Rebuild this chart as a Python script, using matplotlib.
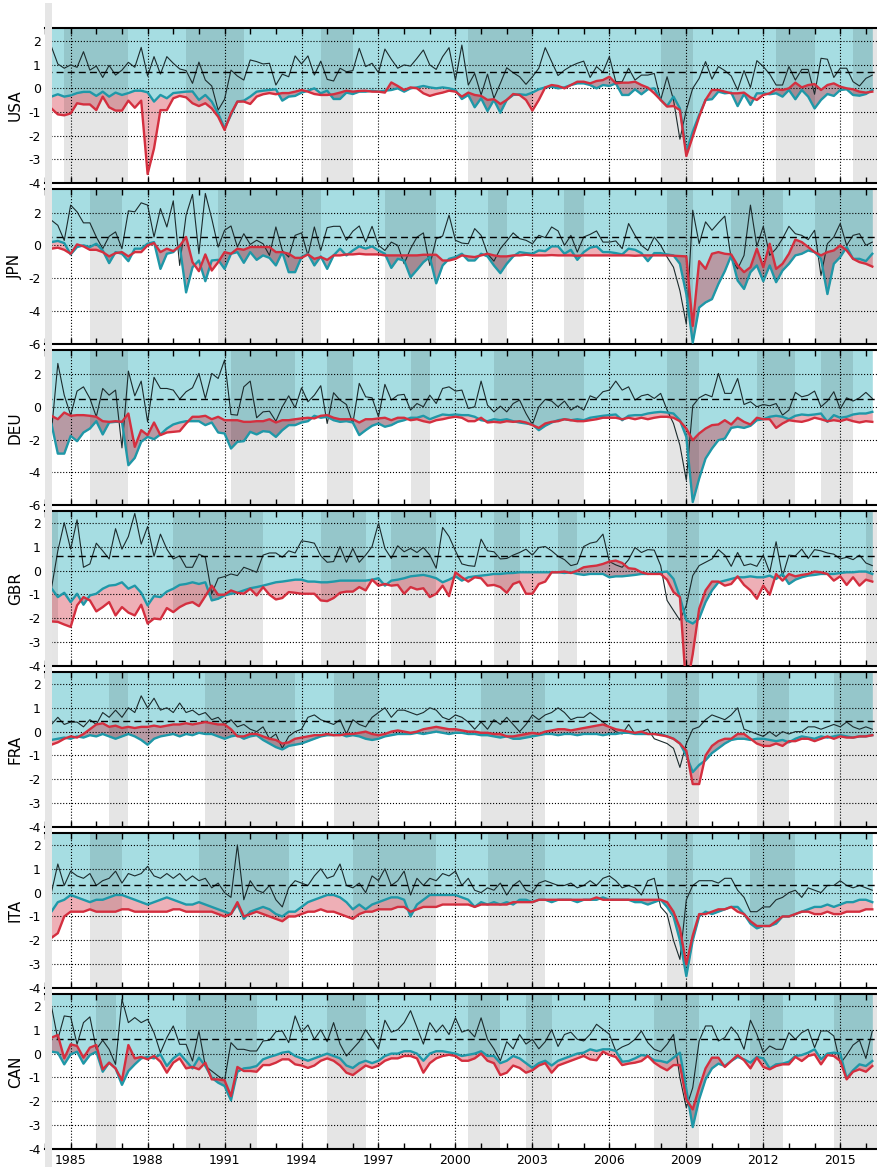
import numpy as np
import matplotlib
matplotlib.use("Agg")
import matplotlib.pyplot as plt
from matplotlib.patches import Rectangle
from matplotlib.ticker import MultipleLocator, FixedLocator

plt.rcParams['axes.unicode_minus'] = False

# quarterly observations 1984Q1 .. 2016Q2
quarters = 1984 + 0.25 * np.arange(130)

countries = ["USA", "JPN", "DEU", "GBR", "FRA", "ITA", "CAN"]

# ---- GDP growth (black line) ----
growth_usa = [2.0, 1.76, 1.03, 0.85, 0.99, 0.89, 1.55, 0.77, 0.94, 0.46, 0.97, 0.56, 0.77, 1.1, 0.89, 1.73, 0.52, 1.34, 0.6, 1.34,
              1.06, 0.82, 0.75, 0.21, 1.11, 0.35, 0.1, -0.92, -0.46, 0.77, 0.52, 0.35, 1.2, 1.13, 1.03, 1.06, 0.14, 0.6, 0.49, 1.37,
              1.03, 1.37, 0.56, 1.15, 0.38, 0.31, 0.85, 0.7, 0.75, 1.69, 0.92, 1.06, 0.66, 1.66, 1.23, 0.85, 0.99, 0.94, 1.27, 1.62,
              0.99, 0.8, 1.34, 1.72, 0.35, 1.83, 0.14, 0.63, -0.28, 0.6, -0.42, 0.21, 0.87, 0.66, 0.49, 0.17, 0.49, 0.85, 1.72, 1.13,
              0.54, 0.77, 0.94, 1.06, 1.15, 0.46, 0.92, 0.68, 1.34, 0.28, 0.28, 0.85, 0.35, 0.56, 0.56, 0.63, -0.49, 0.49, -0.49, -2.15,
              -0.92, 0.0, 0.42, 1.13, 0.39, 0.92, 0.75, 0.52, -0.07, 0.75, 0.04, 1.17, 0.92, 0.6, 0.14, 0.14, 0.92, 0.35, 0.8, 0.8,
              -0.25, 1.27, 1.23, 0.46, 0.85, 0.85, 0.28, 0.1, 0.42, 0.56]
growth_jpn = [1.16, 1.53, 1.22, 0.3, 2.45, 2.04, 1.37, 1.37, 0.51, -0.2, 0.55, 0.82, -0.2, 2.1, 2.04, 2.59, 2.45, 0.51, 2.24, 1.12,
              2.71, -1.22, 1.84, 3.1, -0.51, 3.16, 1.63, -0.1, 0.92, 1.18, -0.1, 0.71, 0.06, 0.31, 0.1, -0.61, 1.12, -0.31, -0.71, 0.61,
              0.76, -0.61, 1.12, -0.31, 1.08, 1.16, 1.16, 0.31, 0.86, 1.18, 0.2, 1.16, 0.0, -0.31, 0.2, 0.0, -1.12, -0.2, 0.5, 0.76,
              -1.22, 0.41, 0.57, 1.84, 0.31, 0.14, 0.1, 1.02, 0.61, -0.51, -0.96, -0.2, 0.27, 0.76, 0.41, 0.31, 0.1, 0.61, 0.47, 1.12,
              0.88, 0.0, 0.61, -0.41, 0.51, 0.67, 0.88, 0.2, 0.2, 0.27, -0.2, 1.33, 0.61, 0.0, -0.31, 0.51, 0.0, -0.71, -1.33, -2.76,
              -4.8, 2.14, 0.1, 1.43, 0.92, 1.37, 1.78, -0.82, -1.43, -0.61, 2.45, -0.06, 1.16, -0.61, -0.2, 0.41, 1.16, 0.71, 0.61, 0.35,
              0.92, -1.84, 0.1, 0.51, 1.33, 0.0, 0.61, 0.71, 0.0, 0.2]
growth_deu = [1.33, -1.57, 2.65, 0.71, -0.51, 0.96, 1.22, 0.51, -0.61, 1.12, 0.71, 1.02, -2.51, 2.18, 0.67, 1.57, -0.92, 1.8, 1.12, 1.12,
              1.02, 0.47, 0.92, 1.16, 2.04, 0.51, 2.04, 1.73, 2.86, -0.47, -0.51, 1.22, 1.57, -0.67, -0.31, -0.27, -0.88, 0.0, 0.67, -0.06,
              1.16, 0.31, 0.71, 1.29, -1.02, 0.86, 0.41, 0.14, -1.02, 1.43, 0.61, 0.55, -0.61, 1.37, 0.41, 0.71, 0.76, -0.2, 0.2, 0.0,
              0.71, 0.2, 1.12, 1.22, 0.96, 1.02, -0.1, 0.0, 1.57, 0.1, -0.31, 0.04, -0.31, 0.2, 0.41, -0.41, -1.08, 0.0, 0.45, 0.35,
              0.0, 0.35, -0.2, 0.06, -0.2, 0.67, 0.51, 0.92, 1.02, 1.57, 1.02, 1.22, 0.41, 0.67, 0.76, 0.51, 0.82, -0.2, -1.02, -2.35,
              -4.49, 0.06, 0.55, 0.76, 0.61, 2.04, 0.82, 0.82, 1.73, 0.14, 0.31, 0.0, 0.14, 0.06, 0.2, -0.51, -0.2, 0.88, 0.61, 0.71,
              0.96, 0.0, 0.35, 0.92, -0.14, 0.55, 0.35, 0.55, 0.88, 0.51]
growth_gbr = [0.62, -0.76, 0.83, 2.01, 0.9, 2.13, 0.14, 0.28, 1.15, 0.83, 0.49, 1.76, 0.9, 1.43, 2.4, 1.11, 1.85, 0.6, 1.53, 0.9,
              0.49, 0.62, 0.14, 0.14, 0.69, 0.56, -0.97, -0.32, -0.25, -0.14, -0.21, 0.14, 0.04, -0.07, 0.65, 0.74, 0.74, 0.56, 0.83, 0.74,
              1.25, 1.21, 1.15, 0.62, 0.35, 0.38, 1.01, 0.35, 0.93, 0.35, 0.65, 1.01, 1.99, 0.93, 0.51, 1.04, 0.79, 0.93, 0.76, 0.97,
              0.65, 0.1, 1.81, 1.43, 0.83, 0.28, 0.21, 0.18, 1.32, 0.83, 0.79, 0.49, 0.51, 0.65, 0.76, 0.9, 0.65, 0.97, 1.01, 0.83,
              0.6, 0.46, 0.21, 0.28, 1.01, 1.15, 1.21, 1.53, 0.38, 0.24, 0.14, 0.46, 0.97, 0.76, 0.88, 0.86, 0.21, -1.25, -1.67, -2.08,
              -1.46, -0.21, 0.21, 0.35, 0.49, 0.88, 0.65, 0.18, 0.76, 0.21, 0.28, 0.18, 0.65, -0.07, 1.21, -0.24, 0.65, 0.62, 0.9, 0.51,
              0.88, 0.83, 0.74, 0.69, 0.49, 0.56, 0.46, 0.65, 0.32, 0.21]
growth_fra = [0.5, 0.3, 0.6, 0.3, 0.4, 0.4, 0.2, 0.5, 0.3, 0.8, 0.6, 0.9, 0.6, 1.0, 0.8, 1.5, 1.0, 1.4, 0.9, 1.0,
              0.8, 1.2, 0.8, 0.9, 0.7, 0.8, 0.5, 0.6, 0.3, 0.5, 0.2, 0.3, 0.1, 0.0, 0.2, -0.3, -0.1, -0.7, -0.2, 0.0,
              0.1, 0.6, 0.7, 0.5, 0.4, 0.3, 0.5, -0.1, 0.5, 0.3, 0.2, 0.6, 0.8, 1.0, 0.6, 0.9, 0.9, 0.8, 0.7, 0.8,
              1.0, 0.9, 0.6, 0.5, 0.7, 0.6, 0.4, 0.1, 0.4, 0.1, 0.5, 0.3, 0.6, 0.3, 0.0, 0.3, 0.7, 0.5, 0.7, 0.8,
              1.0, 0.8, 0.5, 0.6, 0.6, 0.8, 0.6, 0.4, 0.2, 0.0, -0.1, 0.3, -0.1, 0.0, 0.1, -0.3, -0.4, -0.5, -0.7, -1.5,
              -0.5, 0.1, 0.2, 0.5, 0.7, 0.6, 0.5, 0.7, 1.0, 0.1, 0.0, -0.1, -0.2, 0.0, -0.2, 0.0, -0.1, 0.0, 0.0, 0.2,
              0.2, 0.1, 0.2, 0.3, 0.2, 0.4, 0.2, 0.1, 0.2, 0.1]
growth_ita = [0.9, 0.0, 1.2, 0.3, 0.9, 0.7, 0.6, 0.8, 0.3, 0.5, 0.6, 0.9, 0.4, 0.8, 0.7, 0.8, 1.1, 0.7, 0.6, 0.8,
              0.6, 0.8, 0.5, 0.7, 0.5, 0.6, 0.2, 0.4, 0.0, -0.2, 2.0, -0.3, 0.5, 0.1, 0.0, 0.3, -0.3, -0.6, 0.2, 0.5,
              0.4, 0.3, 0.7, 1.0, 0.6, 0.7, 1.2, 0.3, 0.2, 0.4, 0.0, 0.7, 0.5, 1.0, 0.3, 0.5, 0.9, -0.1, 0.6, 0.3,
              0.6, 0.5, 0.8, 0.7, 0.9, 0.3, 0.6, 0.1, 0.0, 0.2, 0.1, 0.4, -0.1, 0.3, 0.5, 0.1, 0.0, 0.4, 0.5, 0.4,
              0.3, 0.3, 0.4, 0.2, 0.3, 0.5, 0.3, 0.6, 0.7, 0.5, 0.2, 0.3, 0.2, -0.1, 0.5, 0.6, -0.6, -0.9, -2.0, -2.8,
              -0.3, 0.3, 0.5, 0.5, 0.5, 0.4, 0.6, 0.6, 0.1, -0.2, -0.8, -0.8, -0.6, -0.6, -0.3, -0.2, 0.0, 0.1, -0.2, 0.2,
              0.1, 0.0, 0.3, 0.3, 0.5, 0.3, 0.2, 0.3, 0.2, 0.1]
growth_can = [1.72, 2.0, 0.6, 1.58, 1.54, 0.39, 1.3, 1.54, 0.18, 0.56, 0.18, -0.45, 2.28, 1.3, 1.51, 1.3, 1.44, 0.88, 0.04, 0.67,
              1.16, 0.39, 0.39, -0.31, 0.95, -0.52, -0.73, -0.94, -1.12, 0.46, 0.18, 0.18, 0.11, 0.11, 0.53, 0.56, 0.92, 0.95, 0.46, 1.58,
              0.9, 1.2, 0.6, 1.0, 0.5, 1.3, 0.4, -0.1, 0.2, 0.5, 1.0, 0.6, 0.2, 1.4, 0.9, 1.0, 1.3, 1.8, 1.1, 0.4,
              1.3, 0.9, 1.2, 0.8, 1.5, 0.9, 1.0, 0.7, 1.5, 0.6, 0.2, -0.3, 0.5, 0.2, 0.8, 0.4, 0.6, 0.2, 0.5, 1.0,
              0.3, 0.8, 0.9, 0.6, 0.53, 0.81, 1.23, 1.02, 0.81, 0.11, 0.28, 0.39, 0.6, 0.95, 0.46, 0.18, 0.08, 0.39, 0.81, -1.01,
              -2.27, -1.43, 0.53, 1.16, 1.16, 0.53, 0.67, 1.12, 0.81, 0.18, 1.4, 0.81, 0.04, 0.32, 0.18, 0.18, 0.88, 0.6, 0.88, 1.02,
              0.25, 0.95, 0.95, 0.74, -0.42, -0.06, 0.36, 0.56, -0.2, 0.95]

# ---- first gap estimate (teal line) ----
teal_usa = [-0.42, -0.35, -0.25, -0.35, -0.3, -0.2, -0.15, -0.15, -0.32, -0.14, -0.35, -0.18, -0.28, -0.2, -0.1, -0.1, -0.17, -0.56, -0.28, -0.42,
            -0.2, -0.17, -0.14, -0.13, -0.49, -0.28, -0.56, -1.06, -1.69, -1.13, -0.56, -0.52, -0.35, -0.14, -0.1, -0.07, -0.04, -0.52, -0.35, -0.32,
            -0.18, -0.1, 0.0, -0.21, -0.1, -0.45, -0.45, -0.18, -0.24, -0.14, -0.14, -0.1, -0.14, -0.1, -0.07, 0.0, -0.14, 0.0, 0.04, 0.1,
            0.04, 0.0, 0.04, 0.0, -0.07, -0.45, -0.28, -0.8, -0.42, -0.96, -0.49, -1.03, -0.49, -0.28, -0.25, -0.28, -0.18, -0.04, 0.04, 0.07,
            0.0, 0.04, 0.14, 0.21, 0.21, 0.14, 0.0, 0.14, 0.1, 0.21, -0.28, -0.28, -0.04, -0.25, -0.04, 0.0, -0.49, -0.75, -0.35, -0.85,
            -2.68, -1.83, -1.13, -0.49, -0.46, -0.14, -0.21, -0.18, -0.75, -0.24, -0.7, -0.21, -0.21, -0.25, -0.21, -0.35, -0.07, -0.46, -0.07, -0.35,
            -0.85, -0.49, -0.24, -0.32, -0.07, -0.04, -0.28, -0.31, -0.24, -0.07]
teal_jpn = [0.0, 0.2, 0.27, 0.14, -0.55, -0.1, 0.0, -0.1, 0.1, -0.31, -1.08, -0.41, -0.51, -0.96, -0.2, -0.2, 0.1, 0.2, -1.43, -0.51,
            -0.41, 0.0, -2.86, -1.33, -0.92, -2.18, -0.92, -0.88, -1.43, -0.51, -0.41, -1.06, -0.41, -0.88, -0.61, -0.76, -1.22, -0.41, -1.63, -1.63,
            -0.71, -0.51, -1.22, -0.67, -1.43, -0.61, -0.2, -0.61, -0.31, -0.06, -0.2, -0.06, -0.31, -0.51, -1.37, -0.82, -0.92, -1.94, -1.49, -1.02,
            -0.71, -2.31, -1.22, -0.82, -0.71, -0.51, -0.92, -0.92, -0.51, -0.67, -1.22, -1.69, -1.12, -0.67, -0.41, -0.47, -0.51, -0.31, -0.35, -0.06,
            -0.06, -0.51, -0.27, -0.88, -0.41, -0.14, -0.06, -0.41, -0.41, -0.47, -0.55, -0.2, -0.27, -0.47, -0.96, -0.47, -0.47, -0.55, -0.61, -1.12,
            -2.96, -5.92, -3.78, -3.47, -3.27, -2.35, -1.57, -0.61, -2.14, -2.65, -1.63, -1.22, -2.18, -1.22, -2.24, -1.53, -1.12, -0.61, -0.51, -0.31,
            -0.41, -0.82, -2.96, -1.12, -0.71, -0.1, -0.82, -0.82, -0.96, -0.51]
teal_deu = [-0.71, -1.02, -2.86, -2.86, -1.78, -2.1, -1.57, -1.33, -0.88, -1.69, -0.96, -0.92, -0.92, -3.57, -3.12, -2.14, -1.84, -1.98, -1.69, -1.33,
            -1.08, -0.96, -0.88, -0.88, -0.88, -1.12, -0.96, -1.57, -1.63, -2.55, -2.14, -2.1, -1.53, -1.69, -1.49, -1.53, -1.84, -1.43, -1.12, -1.12,
            -0.96, -0.88, -0.55, -0.67, -0.61, -0.82, -0.92, -0.88, -0.96, -1.73, -1.43, -1.16, -1.02, -1.22, -1.12, -0.92, -0.82, -0.67, -0.67, -0.55,
            -0.76, -0.61, -0.47, -0.51, -0.47, -0.51, -0.51, -0.61, -0.82, -0.88, -0.76, -0.82, -0.76, -0.88, -0.96, -1.02, -1.08, -1.43, -1.16, -0.96,
            -0.82, -0.76, -0.82, -0.76, -0.82, -0.67, -0.61, -0.55, -0.51, -0.47, -0.82, -0.55, -0.51, -0.51, -0.41, -0.35, -0.31, -0.35, -0.41, -0.82,
            -1.84, -5.82, -4.39, -3.16, -2.55, -2.04, -1.94, -1.29, -1.22, -1.29, -1.16, -0.82, -0.76, -0.61, -0.55, -0.61, -0.76, -0.55, -0.47, -0.51,
            -0.47, -0.41, -0.92, -0.51, -0.67, -0.61, -0.47, -0.41, -0.41, -0.31]
teal_gbr = [-0.63, -0.74, -1.11, -0.93, -1.32, -0.97, -1.43, -1.04, -0.97, -0.76, -0.63, -0.6, -0.49, -0.76, -0.63, -0.93, -1.46, -1.07, -1.11, -0.88,
            -0.76, -0.6, -0.56, -0.49, -0.56, -0.49, -1.25, -1.18, -1.04, -0.97, -0.93, -0.83, -0.74, -0.69, -0.63, -0.56, -0.49, -0.46, -0.42, -0.38,
            -0.38, -0.46, -0.46, -0.49, -0.49, -0.46, -0.42, -0.42, -0.42, -0.42, -0.42, -0.38, -0.32, -0.63, -0.42, -0.38, -0.32, -0.24, -0.21, -0.18,
            -0.24, -0.32, -0.49, -0.38, -0.24, -0.42, -0.28, -0.24, -0.21, -0.18, -0.14, -0.14, -0.11, -0.1, -0.07, -0.07, -0.07, -0.07, -0.07, -0.07,
            -0.07, -0.1, -0.07, -0.14, -0.18, -0.14, -0.14, -0.14, -0.28, -0.24, -0.24, -0.21, -0.18, -0.14, -0.14, -0.1, -0.07, -0.04, -0.35, -1.11,
            -2.08, -2.22, -2.01, -1.32, -0.83, -0.49, -0.42, -0.35, -0.28, -0.28, -0.24, -0.28, -0.28, -0.21, -0.35, -0.14, -0.56, -0.38, -0.28, -0.21,
            -0.18, -0.14, -0.14, -0.14, -0.1, -0.07, -0.07, -0.04, -0.04, -0.14]
teal_fra = [-0.4, -0.35, -0.3, -0.25, -0.3, -0.2, -0.25, -0.15, -0.2, -0.1, -0.2, -0.3, -0.2, -0.1, -0.2, -0.35, -0.55, -0.3, -0.2, -0.15,
            -0.1, -0.2, -0.1, -0.15, -0.05, -0.1, -0.1, -0.2, -0.3, -0.2, -0.15, -0.3, -0.2, -0.15, -0.35, -0.5, -0.65, -0.75, -0.6, -0.55,
            -0.5, -0.4, -0.3, -0.2, -0.15, -0.15, -0.1, -0.2, -0.15, -0.2, -0.3, -0.35, -0.3, -0.2, -0.15, -0.1, -0.1, -0.1, -0.05, -0.1,
            -0.05, 0.0, -0.05, -0.1, -0.05, -0.05, -0.1, -0.1, -0.15, -0.15, -0.2, -0.25, -0.2, -0.3, -0.3, -0.25, -0.2, -0.15, -0.1, -0.1,
            -0.15, -0.1, -0.1, -0.15, -0.1, -0.1, -0.1, -0.15, -0.1, -0.1, -0.05, -0.05, -0.1, -0.1, -0.1, -0.1, -0.1, -0.2, -0.3, -0.5,
            -1.0, -1.7, -1.4, -1.2, -0.9, -0.7, -0.5, -0.35, -0.3, -0.3, -0.35, -0.3, -0.3, -0.35, -0.4, -0.35, -0.45, -0.3, -0.2, -0.25,
            -0.3, -0.2, -0.25, -0.2, -0.15, -0.2, -0.25, -0.2, -0.2, -0.15]
teal_ita = [0.0, -0.8, -0.4, -0.3, -0.1, -0.2, -0.3, -0.4, -0.3, -0.3, -0.2, -0.1, -0.1, -0.2, -0.3, -0.4, -0.5, -0.4, -0.3, -0.2,
            -0.3, -0.4, -0.5, -0.5, -0.4, -0.5, -0.6, -0.7, -0.8, -0.9, -0.5, -1.1, -0.8, -0.7, -0.6, -0.7, -0.9, -1.0, -0.8, -0.8,
            -0.6, -0.4, -0.3, -0.2, -0.1, -0.1, -0.2, -0.4, -0.7, -0.5, -0.7, -0.5, -0.4, -0.3, -0.2, -0.2, -0.3, -1.0, -0.5, -0.3,
            -0.1, -0.1, -0.1, -0.1, -0.1, -0.2, -0.3, -0.6, -0.4, -0.5, -0.4, -0.5, -0.4, -0.5, -0.3, -0.3, -0.4, -0.3, -0.3, -0.4,
            -0.3, -0.3, -0.3, -0.4, -0.3, -0.3, -0.3, -0.2, -0.3, -0.3, -0.3, -0.3, -0.4, -0.4, -0.5, -0.4, -0.3, -0.6, -1.0, -2.0,
            -3.5, -2.0, -1.0, -0.8, -0.9, -0.8, -0.7, -0.6, -0.6, -0.9, -1.3, -1.5, -1.4, -1.4, -1.3, -1.0, -1.0, -0.9, -0.8, -0.7,
            -0.6, -0.6, -0.5, -0.6, -0.5, -0.4, -0.4, -0.3, -0.3, -0.4]
teal_can = [0.0, 0.08, 0.04, -0.45, -0.03, 0.08, -0.42, -0.06, 0.08, -0.76, -0.38, -0.62, -1.31, -0.73, -0.45, -0.2, -0.14, -0.2, -0.03, -0.52,
            -0.2, 0.0, -0.31, -0.62, -0.17, -0.52, -1.01, -1.22, -1.36, -1.96, -0.76, -0.62, -0.59, -0.52, -0.24, -0.14, -0.06, 0.04, 0.08, -0.1,
            -0.2, -0.3, -0.2, -0.1, 0.0, -0.1, -0.2, -0.5, -0.6, -0.4, -0.3, -0.4, -0.3, -0.1, 0.0, 0.0, 0.1, 0.1, 0.0, -0.3,
            0.0, 0.1, 0.1, 0.05, 0.0, -0.1, -0.05, 0.0, 0.1, -0.1, -0.1, -0.4, -0.3, -0.1, -0.2, -0.4, -0.6, -0.4, -0.3, -0.5,
            -0.3, -0.2, -0.1, 0.0, 0.04, 0.18, 0.11, 0.18, 0.18, 0.11, -0.34, -0.31, -0.2, -0.06, -0.1, -0.28, -0.31, -0.38, -0.17, 0.04,
            -1.5, -3.08, -1.92, -1.08, -0.62, -0.42, -0.52, -0.31, -0.14, -0.24, -0.38, -0.14, -0.2, -0.62, -0.45, -0.42, -0.34, -0.1, -0.06, 0.04,
            0.18, -0.24, 0.0, 0.04, 0.0, -1.03, -0.7, -0.45, -0.52, -0.31]

# ---- second gap estimate (red line) ----
red_usa = [-0.42, -0.85, -1.1, -1.14, -1.06, -0.63, -0.68, -0.68, -0.92, -0.35, -0.8, -0.94, -0.94, -0.52, -0.82, -0.52, -3.62, -2.54, -0.92, -0.92,
           -0.42, -0.32, -0.38, -0.63, -0.75, -0.63, -0.85, -1.2, -1.76, -1.06, -0.56, -0.56, -0.66, -0.35, -0.25, -0.2, -0.25, -0.2, -0.2, -0.14,
           -0.07, -0.14, -0.24, -0.28, -0.28, -0.25, -0.18, -0.1, -0.14, -0.11, -0.1, -0.14, -0.14, -0.18, 0.25, 0.1, -0.07, 0.04, 0.0, -0.21,
           -0.32, -0.24, -0.18, -0.1, -0.14, -0.35, -0.18, -0.28, -0.32, -0.49, -0.46, -0.66, -0.49, -0.24, -0.28, -0.49, -0.94, -0.49, 0.04, 0.14,
           0.1, 0.0, 0.14, 0.28, 0.28, 0.21, 0.31, 0.35, 0.49, 0.21, 0.24, 0.24, 0.28, 0.14, 0.03, -0.21, -0.49, -0.77, -0.75, -0.92,
           -2.86, -2.04, -1.2, -0.49, -0.07, -0.07, -0.14, -0.21, -0.21, -0.18, -0.38, -0.49, -0.28, -0.21, -0.04, -0.07, 0.0, 0.24, 0.04, 0.14,
           0.18, -0.07, 0.14, 0.21, 0.07, 0.0, -0.04, -0.14, -0.18, -0.14]
red_jpn = [-0.31, -0.2, -0.14, -0.27, -0.51, 0.06, -0.06, -0.27, -0.27, -0.41, -0.67, -0.47, -0.41, -0.67, -0.41, -0.41, 0.0, 0.14, -0.41, -0.2,
           -0.35, -0.04, 0.51, -1.02, -1.57, -0.55, -1.53, -1.02, -0.41, -0.51, -0.2, -0.27, -0.1, -0.1, -0.1, -0.1, -0.41, -0.41, -0.51, -0.76,
           -0.76, -0.55, -0.82, -0.71, -0.88, -0.61, -0.61, -0.55, -0.55, -0.51, -0.55, -0.55, -0.55, -0.61, -0.61, -0.61, -0.61, -0.61, -0.61, -0.57,
           -0.57, -0.57, -0.92, -0.92, -0.82, -0.61, -0.67, -0.71, -0.61, -0.51, -0.61, -0.67, -0.67, -0.61, -0.61, -0.57, -0.61, -0.61, -0.61, -0.59,
           -0.61, -0.61, -0.61, -0.63, -0.61, -0.61, -0.61, -0.61, -0.61, -0.61, -0.61, -0.61, -0.63, -0.61, -0.61, -0.61, -0.61, -0.61, -0.63, -0.65,
           -0.67, -4.9, -0.96, -1.43, -0.51, -0.41, -0.51, -0.55, -1.22, -1.63, -1.33, -0.2, -1.33, 0.1, -1.43, -1.12, -0.51, 0.35, 0.2, -0.1,
           -0.41, -0.61, -0.41, -0.31, 0.0, -0.31, -0.82, -1.02, -1.12, -1.29]
red_deu = [-0.41, -0.55, -0.76, -0.35, -0.55, -0.51, -0.51, -0.55, -0.61, -0.88, -0.92, -0.88, -0.92, -0.41, -2.45, -1.43, -1.73, -0.96, -1.73, -1.57,
           -1.53, -1.49, -1.02, -0.61, -0.61, -0.55, -0.76, -0.61, -0.82, -0.82, -0.82, -0.92, -0.92, -0.88, -0.88, -0.76, -0.96, -0.82, -0.82, -0.76,
           -0.71, -0.67, -0.71, -0.55, -0.51, -0.67, -0.76, -0.76, -0.76, -0.96, -0.76, -0.76, -0.71, -0.67, -0.82, -0.67, -0.67, -0.82, -0.76, -0.88,
           -0.96, -0.82, -0.76, -0.67, -0.61, -0.67, -0.88, -0.88, -0.67, -0.96, -0.92, -0.96, -0.88, -0.92, -0.88, -0.96, -1.12, -1.29, -1.02, -0.92,
           -0.88, -0.76, -0.82, -0.88, -0.88, -0.82, -0.76, -0.67, -0.67, -0.67, -0.76, -0.67, -0.76, -0.67, -0.76, -0.67, -0.61, -0.61, -0.67, -0.88,
           -1.33, -2.04, -1.63, -1.33, -1.12, -1.08, -0.82, -1.08, -0.67, -0.92, -1.08, -0.67, -0.76, -0.76, -1.29, -1.02, -0.82, -0.88, -0.92, -0.82,
           -0.67, -0.76, -0.88, -0.82, -0.88, -0.76, -0.88, -0.96, -0.88, -0.92]
red_gbr = [-2.04, -2.13, -2.15, -2.26, -2.36, -1.46, -1.11, -1.25, -1.71, -1.53, -1.32, -1.88, -1.53, -1.76, -1.88, -1.43, -2.22, -2.01, -2.04, -1.57,
           -1.74, -1.53, -1.39, -1.32, -1.49, -1.07, -0.63, -1.01, -1.01, -0.83, -0.93, -0.97, -0.76, -1.04, -0.69, -1.01, -1.21, -1.15, -0.9, -0.93,
           -0.97, -0.97, -0.97, -1.25, -1.28, -1.15, -0.93, -0.88, -0.88, -0.69, -0.83, -0.38, -0.63, -0.56, -0.63, -0.6, -0.97, -0.69, -0.79, -0.74,
           -1.11, -0.97, -0.63, -1.07, -0.07, -0.28, -0.46, -0.28, -0.32, -0.63, -0.6, -0.69, -0.93, -0.56, -0.46, -0.97, -0.97, -0.56, -0.46, -0.07,
           -0.07, -0.04, -0.1, 0.0, 0.14, 0.18, 0.21, 0.28, 0.38, 0.42, 0.32, 0.1, 0.07, -0.07, -0.14, -0.14, -0.14, -0.38, -0.9, -1.11,
           -5.0, -3.5, -1.6, -0.83, -0.46, -0.46, -0.63, -0.56, -0.24, -0.6, -0.83, -1.18, -0.63, -1.01, -0.14, -0.42, -0.14, -0.24, -0.18, -0.14,
           -0.04, -0.07, -0.14, -0.42, -0.24, -0.6, -0.28, -0.63, -0.38, -0.46]
red_fra = [-0.5, -0.55, -0.45, -0.3, -0.2, -0.25, -0.1, 0.1, 0.3, 0.35, 0.2, 0.25, 0.15, 0.2, 0.15, 0.2, 0.2, 0.25, 0.2, 0.25,
           0.3, 0.3, 0.35, 0.3, 0.35, 0.4, 0.35, 0.3, 0.3, 0.1, -0.2, -0.2, -0.1, -0.1, -0.2, -0.3, -0.35, -0.5, -0.45, -0.3,
           -0.25, -0.2, -0.15, -0.15, -0.1, -0.15, -0.15, -0.1, -0.1, -0.05, 0.0, -0.1, -0.15, -0.1, 0.0, 0.05, 0.0, -0.05, 0.0, 0.1,
           0.15, 0.2, 0.15, 0.1, 0.1, 0.05, 0.0, 0.0, -0.05, -0.05, -0.1, -0.1, -0.2, -0.2, -0.15, -0.1, -0.05, -0.1, 0.0, 0.05,
           0.1, 0.1, 0.05, 0.1, 0.15, 0.2, 0.25, 0.3, 0.2, 0.1, 0.05, 0.0, -0.05, 0.0, -0.1, -0.1, -0.15, -0.2, -0.3, -0.5,
           -0.8, -2.2, -2.2, -1.0, -0.6, -0.4, -0.3, -0.3, -0.1, -0.1, -0.3, -0.5, -0.6, -0.6, -0.5, -0.6, -0.4, -0.4, -0.3, -0.3,
           -0.4, -0.3, -0.2, -0.3, -0.2, -0.25, -0.25, -0.2, -0.2, -0.15]
red_ita = [-0.5, -1.9, -1.7, -1.0, -0.8, -0.8, -0.8, -0.7, -0.8, -0.8, -0.8, -0.8, -0.7, -0.7, -0.8, -0.8, -0.8, -0.8, -0.8, -0.8,
           -0.7, -0.7, -0.8, -0.8, -0.8, -0.8, -0.8, -0.9, -1.0, -0.9, -0.4, -1.0, -0.9, -0.8, -0.9, -1.0, -1.1, -1.2, -1.0, -1.0,
           -0.9, -0.8, -0.8, -0.7, -0.8, -0.8, -0.9, -1.0, -1.1, -0.9, -0.8, -0.8, -0.7, -0.7, -0.7, -0.6, -0.6, -0.8, -0.7, -0.6,
           -0.6, -0.6, -0.5, -0.5, -0.5, -0.5, -0.5, -0.6, -0.5, -0.5, -0.5, -0.5, -0.5, -0.4, -0.4, -0.4, -0.4, -0.3, -0.3, -0.3,
           -0.3, -0.3, -0.3, -0.3, -0.3, -0.3, -0.2, -0.3, -0.3, -0.3, -0.3, -0.3, -0.3, -0.3, -0.3, -0.3, -0.3, -0.4, -0.8, -1.5,
           -3.0, -1.8, -0.9, -0.9, -0.8, -0.7, -0.7, -0.6, -0.8, -0.9, -1.2, -1.4, -1.4, -1.4, -1.2, -1.0, -1.0, -0.9, -0.8, -0.8,
           -0.9, -0.9, -0.8, -0.9, -0.9, -0.8, -0.8, -0.8, -0.7, -0.7]
red_can = [0.6, 0.67, 0.78, -0.2, 0.39, 0.32, -0.17, 0.25, 0.36, -0.66, -0.38, -0.62, -1.12, 0.36, -0.2, -0.14, -0.24, -0.1, -0.34, -0.8,
           -0.38, -0.2, -0.62, -0.56, -0.66, -0.38, -1.08, -1.08, -1.12, -1.78, -0.56, -0.73, -0.73, -0.76, -0.48, -0.48, -0.38, -0.24, -0.24, -0.45,
           -0.5, -0.6, -0.5, -0.3, -0.2, -0.3, -0.5, -0.8, -0.9, -0.7, -0.5, -0.6, -0.5, -0.3, -0.2, -0.2, -0.1, -0.1, -0.2, -0.8,
           -0.4, -0.2, -0.1, -0.05, -0.1, -0.3, -0.3, -0.2, 0.0, -0.3, -0.4, -0.9, -0.8, -0.5, -0.6, -0.8, -0.7, -0.5, -0.4, -0.8,
           -0.5, -0.4, -0.3, -0.2, -0.1, -0.24, -0.28, 0.08, -0.06, -0.14, -0.48, -0.42, -0.38, -0.31, -0.1, -0.38, -0.56, -0.7, -0.48, -0.48,
           -1.92, -2.34, -1.43, -0.62, -0.17, -0.17, -0.56, -0.31, -0.06, -0.28, -0.62, -0.17, -0.56, -0.66, -0.52, -0.45, -0.45, -0.14, -0.31, -0.1,
           -0.03, -0.45, -0.06, -0.1, -0.31, -1.08, -0.76, -0.66, -0.76, -0.52]

# average growth (dashed line)
mean_growth = [0.7, 0.51, 0.47, 0.62, 0.45, 0.3, 0.62]

# shaded periods
bands_usa = [(1984.0, 1984.25), (1984.75, 1987.25), (1989.5, 1991.75), (1994.75, 1996.0), (2000.5, 2003.0),
             (2008.0, 2009.25), (2012.5, 2014.0), (2015.5, 2016.6)]
bands_jpn = [(1984.0, 1984.25), (1985.75, 1987.0), (1990.75, 1994.75), (1997.25, 1999.25), (2001.25, 2002.0),
             (2004.25, 2005.0), (2008.25, 2009.25), (2010.75, 2012.75), (2014.0, 2016.6)]
bands_deu = [(1984.0, 1984.25), (1985.75, 1987.25), (1991.25, 1993.75), (1995.0, 1996.0), (1998.25, 1999.0),
             (2001.5, 2005.0), (2008.25, 2009.5), (2011.75, 2013.25), (2014.25, 2015.5)]
bands_gbr = [(1984.0, 1984.5), (1989.0, 1992.5), (1994.75, 1996.5), (1997.5, 1999.25), (2001.5, 2002.5),
             (2004.0, 2004.75), (2008.25, 2009.5), (2016.0, 2016.6)]
bands_fra = [(1984.0, 1984.25), (1986.5, 1987.25), (1990.25, 1993.75), (1995.25, 1997.0), (2001.0, 2003.5),
             (2008.25, 2009.5), (2011.75, 2013.0), (2014.75, 2016.6)]
bands_ita = [(1984.0, 1984.25), (1985.75, 1987.0), (1990.0, 1993.5), (1996.0, 1999.25), (2001.25, 2003.5),
             (2008.25, 2009.25), (2011.5, 2013.25)]
bands_can = [(1984.0, 1984.25), (1986.0, 1986.75), (1989.5, 1992.25), (1995.0, 1996.5), (2000.5, 2001.75),
             (2002.75, 2003.75), (2007.75, 2009.5), (2011.5, 2012.75), (2014.75, 2016.6)]

growth = [growth_usa, growth_jpn, growth_deu, growth_gbr, growth_fra, growth_ita, growth_can]
teal = [teal_usa, teal_jpn, teal_deu, teal_gbr, teal_fra, teal_ita, teal_can]
red = [red_usa, red_jpn, red_deu, red_gbr, red_fra, red_ita, red_can]
bands = [bands_usa, bands_jpn, bands_deu, bands_gbr, bands_fra, bands_ita, bands_can]
ylims = [(-4, 2.55), (-6, 3.43), (-6, 3.47), (-4, 2.5), (-4, 2.5), (-4, 2.5), (-4, 2.5)]
ystep = [1, 2, 2, 1, 1, 1, 1]

CYAN = "#a6dde2"
TEAL = "#1f98a8"
RED = "#d42f3f"

W, H = 878, 1167
fig = plt.figure(figsize=(W / 100, H / 100), dpi=100)

# grey strip running down the left edge of the whole figure
fig.patches.append(Rectangle((45 / W, 0), 7 / W, 1 - 3 / H, transform=fig.transFigure,
                             facecolor="#e6e6e6", edgecolor="none", zorder=0))

for k, code in enumerate(countries):
    top = 28 + 161 * k
    ax = fig.add_axes([45 / W, 1 - (top + 155) / H, 835 / W, 155 / H])
    lo, hi = ylims[k]

    ax.fill_between(quarters, teal[k], hi + 5, color=CYAN, lw=0, zorder=1)
    ax.fill_between(quarters, red[k], teal[k], color=RED, alpha=0.38, lw=0, zorder=1.2)
    for s, e in bands[k]:
        ax.axvspan(s, e, color="black", alpha=0.1, lw=0, zorder=2)

    ax.plot(quarters, growth[k], color="#1b2a2c", lw=0.8, zorder=3)
    ax.axhline(mean_growth[k], color="black", lw=1.0, ls=(0, (5, 3)), zorder=3)
    ax.plot(quarters, teal[k], color=TEAL, lw=1.7, zorder=4)
    ax.plot(quarters, red[k], color=RED, lw=1.7, zorder=5)

    ax.set_xlim(1984, 2016.55)
    ax.set_ylim(lo, hi)
    ax.yaxis.set_major_locator(MultipleLocator(ystep[k]))
    ax.xaxis.set_major_locator(FixedLocator(range(1985, 2017, 3)))
    ax.xaxis.set_minor_locator(MultipleLocator(1))

    ax.set_axisbelow(False)
    ax.grid(True, which="major", linestyle=":", color="black", linewidth=0.8)

    ax.tick_params(axis="x", which="both", direction="in", top=True, bottom=True,
                   length=4, width=1, labelsize=9)
    ax.tick_params(axis="y", which="both", length=0, labelsize=9, pad=3)
    if k < len(countries) - 1:
        ax.tick_params(axis="x", labelbottom=False)

    for side in ["left", "right"]:
        ax.spines[side].set_visible(False)
    for side in ["top", "bottom"]:
        ax.spines[side].set_linewidth(1.5)
        ax.spines[side].set_color("black")

    ax.set_ylabel(code, fontsize=11, labelpad=4)

fig.savefig("out.png", dpi=100)
